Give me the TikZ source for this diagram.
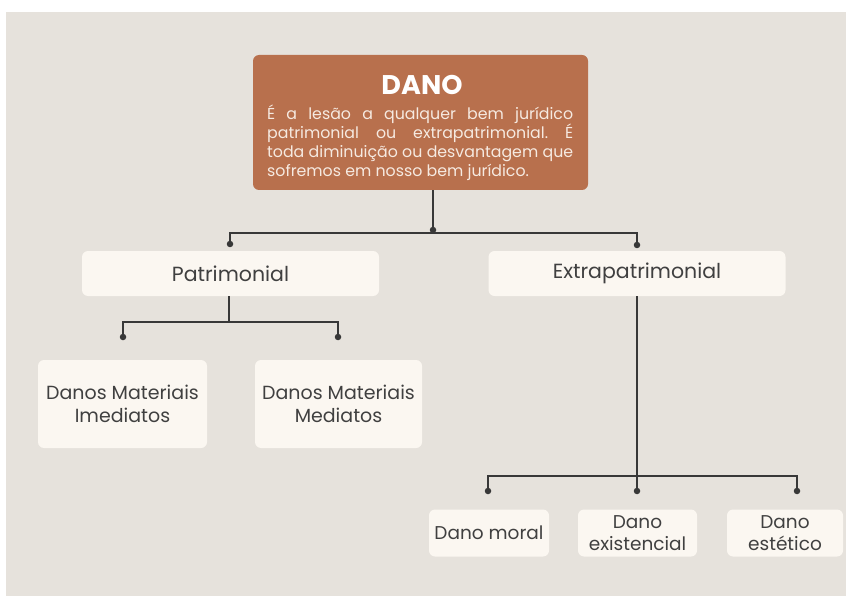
\documentclass[tikz,border=0pt]{standalone}
\usepackage{fontspec}
\setmainfont{Poppins}
\frenchspacing
\definecolor{fundo}{HTML}{E6E2DC}
\definecolor{telha}{HTML}{B8704D}
\definecolor{creme}{HTML}{FBF7F1}
\definecolor{traco}{HTML}{383838}
\definecolor{texto}{HTML}{404040}
\definecolor{claro}{HTML}{F6EAE1}
\begin{document}
\begin{tikzpicture}[x=1pt, y=-1pt,
		caixa/.style={fill=creme, rounded corners=6pt, text=texto, align=center, inner sep=0pt, font=\fontsize{18.5}{22}\selectfont},
		liga/.style={draw=traco, line width=1.8pt},
		ponto/.style={circle, fill=traco, inner sep=0pt, minimum size=6.5pt}]
		    \useasboundingbox (0,0) rectangle (846,596);
		    \fill[fundo] (6,12) rectangle (846,596);
		    \begin{scope}
		      % caixa do topo
		      \node (dano) at (420.5,122.5) [fill=telha, rounded corners=6pt, minimum width=335pt, minimum height=135pt] {};
		      \node (titulo) at (422,85) [text=white, font=\fontsize{27}{30}\selectfont\bfseries] {DANO};
		      \node (desc) at (267,105) [anchor=north west, inner sep=0pt, text width=306pt, align=justify, text=claro, font=\fontsize{15.8}{19}\selectfont]
		        {É a lesão a qualquer bem jurídico\linebreak patrimonial ou extrapatrimonial. É\linebreak toda diminuição ou desvantagem que\linebreak sofremos em nosso bem jurídico.};
		    \end{scope}
		    \begin{scope}
		      \node (pat) at (230.5,273.5) [caixa, minimum width=297pt, minimum height=45pt, font=\fontsize{20.5}{24}\selectfont] {Patrimonial};
		      \node (extra) at (637,273.5) [caixa, minimum width=297pt, minimum height=45pt, font=\fontsize{20.5}{24}\selectfont] {Extrapatrimonial};
		      \node (imed) at (122.5,404) [caixa, minimum width=169pt, minimum height=88pt, font=\fontsize{19}{23}\selectfont] {Danos Materiais\\Imediatos};
		      \node (med) at (338.5,404) [caixa, minimum width=167pt, minimum height=88pt, font=\fontsize{19}{23}\selectfont] {Danos Materiais\\Mediatos};
		      \foreach \n/\x/\w/\t in {moral/489/120/Dano moral, exist/637.5/119/Dano\\existencial, estet/785/116/Dano\\estético} {
		        \node (\n) at (\x,533) [caixa, minimum width=\w pt, minimum height=47pt] {\t};
		      }
		    \end{scope}
		    % ligacoes
		    \coordinate (j0) at (433,233);
		    \coordinate (j1) at (229,322);
		    \coordinate (j2) at (637,476);
		    \node (d0) at (230,244) [ponto] {};
		    \node (d1) at (637,245) [ponto] {};
		    \node (d2) at (433,230) [ponto] {};
		    \foreach \i/\x/\y in {3/123/337, 4/338/337, 5/488/491, 6/637/491, 7/797/491} {
		      \node (d\i) at (\x,\y) [ponto] {};
		    }
		    \draw[liga] (dano.south -| j0) -- (j0);
		    \draw[liga] (d0.center) |- (j0) -| (d1.center);
		    \draw[liga] (pat.south -| j1) -- (j1);
		    \draw[liga] (d3.center) |- (j1) -| (d4.center);
		    \draw[liga] (extra.south) -- (d6.center);
		    \draw[liga] (d5.center) |- (j2) -| (d7.center);
      \end{tikzpicture}
\end{document}
